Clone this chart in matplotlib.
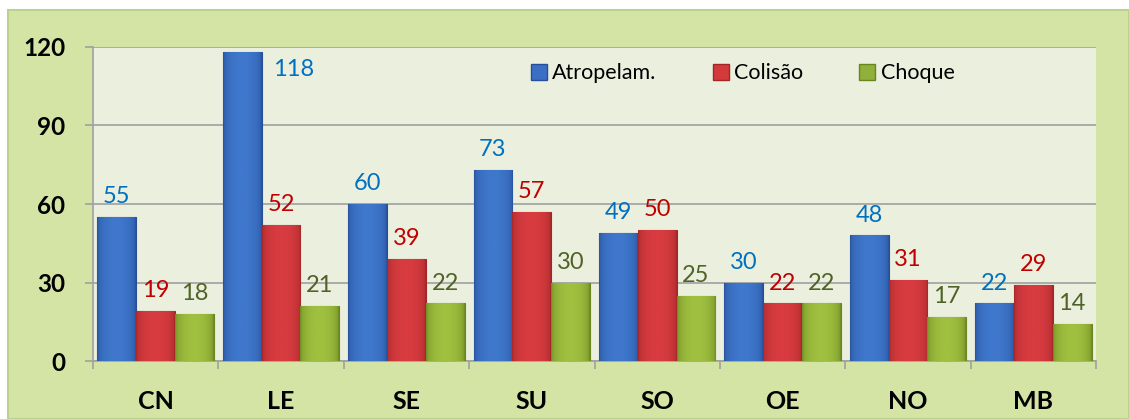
import matplotlib
matplotlib.use("Agg")
import matplotlib.pyplot as plt
import numpy as np
from matplotlib.patches import Rectangle, Patch
from matplotlib.colors import LinearSegmentedColormap

categories = ["CN", "LE", "SE", "SU", "SO", "OE", "NO", "MB"]
series_names = ["Atropelam.", "Colisão", "Choque"]
atropelam = [55, 118, 60, 73, 49, 30, 48, 22]
colisao = [19, 52, 39, 57, 50, 22, 31, 29]
choque = [18, 21, 22, 30, 25, 22, 17, 14]
yticks = [0, 30, 60, 90, 120]

series = [atropelam, colisao, choque]
bar_cols = [("#264f98", "#3f78cc"), ("#a02628", "#d83c40"), ("#6a8520", "#a0c040")]
label_cols = ["#0070c0", "#c00000", "#4f6228"]
legend_cols = ["#3a6fc4", "#d43a3a", "#8fb03a"]

plt.rcParams["font.family"] = ["Lato", "DejaVu Sans"]

fig = plt.figure(figsize=(11.29, 4.19), dpi=100)
fig.patch.set_facecolor("white")
frame = Rectangle((8 / 1129, 0.0), 1121 / 1129, 409 / 419, transform=fig.transFigure,
                  facecolor="#d3e4a5", edgecolor="#bcd28c", linewidth=1.5, zorder=-10)
fig.patches.append(frame)

ax = fig.add_axes([93 / 1129, 58 / 419, 1003 / 1129, 314 / 419])
ax.set_zorder(5)
ax.set_facecolor("#ebf0de")

x = np.arange(len(categories))
w = 0.31
offsets = [-w, 0, w]

grad = np.linspace(0, 1, 64)
grad = np.sin(grad * np.pi) ** 0.35
grad = grad.reshape(1, -1)

for si, vals in enumerate(series):
    cmap = LinearSegmentedColormap.from_list("c%d" % si, [bar_cols[si][0], bar_cols[si][1]])
    bars = ax.bar(x + offsets[si], vals, width=w, color=bar_cols[si][1],
                  edgecolor=bar_cols[si][0], linewidth=0.8, zorder=3)
    for b, v in zip(bars, vals):
        x0, y0 = b.get_x(), b.get_y()
        im = ax.imshow(grad, cmap=cmap, aspect="auto", extent=(x0, x0 + b.get_width(), 0, v),
                       zorder=3.1, interpolation="bicubic", vmin=0, vmax=1)
        im.set_clip_path(b)
        if v + 12 > 120:
            ax.annotate(str(v), xy=(x0 + b.get_width(), v), xytext=(8, -5),
                        textcoords="offset points", ha="left", va="top",
                        color=label_cols[si], fontsize=17, zorder=5)
        else:
            ax.annotate(str(v), xy=(x0 + b.get_width() / 2, v), xytext=(0, 10),
                        textcoords="offset points", ha="center", va="baseline",
                        color=label_cols[si], fontsize=17, zorder=5)

ax.set_xlim(-0.5, len(categories) - 0.5)
ax.set_ylim(0, 120)
ax.set_yticks(yticks)
ax.set_yticklabels([str(t) for t in yticks], fontsize=17.5, fontweight="bold")
ax.set_xticks(x)
ax.set_xticklabels(categories, fontsize=18, fontweight="bold")
ax.set_xticks(np.arange(-0.5, len(categories), 1.0), minor=True)
ax.tick_params(axis="x", which="major", length=0, pad=21)
ax.tick_params(axis="x", which="minor", length=6, color="#a0a0a0", width=1.2)
ax.tick_params(axis="y", length=6, color="#a0a0a0", width=1.2, pad=14)
ax.yaxis.grid(True, color="#a0a0a0", linewidth=1.2, zorder=1)
ax.set_axisbelow(True)
for s in ["top", "right"]:
    ax.spines[s].set_visible(False)
for s in ["left", "bottom"]:
    ax.spines[s].set_color("#a0a0a0")
    ax.spines[s].set_linewidth(1.2)

handles = [Patch(facecolor=legend_cols[i], edgecolor=bar_cols[i][0]) for i in range(3)]
ax.legend(handles, series_names, loc="upper left", bbox_to_anchor=(0.417, 1.01), ncol=3,
          frameon=False, fontsize=15.5, handlelength=0.75, handleheight=0.75,
          handletextpad=0.25, columnspacing=2.6)

fig.savefig("out.png", dpi=100, facecolor=fig.get_facecolor())
